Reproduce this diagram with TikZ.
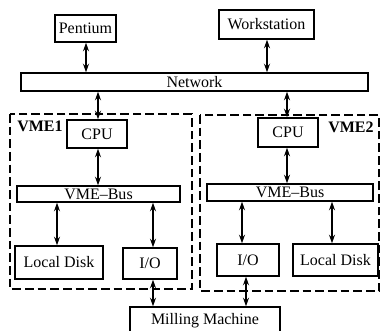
\documentclass[tikz,border=0pt]{standalone}
\usepackage{fontspec}
\setmainfont{Liberation Serif}
\usetikzlibrary{arrows.meta}
\begin{document}
\begin{tikzpicture}[x=0.75pt,y=-0.75pt,
  box/.style={draw,line width=1pt,inner sep=0pt,font=\fontsize{12}{14}\selectfont},
  arr/.style={{Stealth[length=6.5pt,width=4.5pt]}-{Stealth[length=6.5pt,width=4.5pt]},line width=1.2pt},
  grp/.style={draw,line width=0.9pt,dash pattern=on 6.5pt off 3pt},
  lbl/.style={font=\fontsize{12}{14}\selectfont\bfseries,inner sep=0pt}]
\useasboundingbox (0,0) rectangle (381,331);
\node[box,minimum width=45.75pt,minimum height=20.25pt] (pent) at (85.5,28.5) {Pentium};
\node[box,minimum width=71.25pt,minimum height=21.75pt] (ws) at (266.5,24.5) {Workstation};
\node[box,minimum width=260.25pt,minimum height=13.5pt] (net) at (194.5,82) {Network};
% VME1
\draw[grp] (10,114) rectangle (192,289);
\node[lbl] (v1) at (40,126) {VME1};
\node[box,minimum width=45pt,minimum height=21pt] (cpu1) at (97,134) {CPU};
\node[box,minimum width=122.25pt,minimum height=12pt] (bus1) at (98.5,194) {VME--Bus};
\node[box,minimum width=66pt,minimum height=24.75pt] (ld1) at (59,262.5) {Local Disk};
\node[box,minimum width=40.5pt,minimum height=23.25pt] (io1) at (150,263.5) {I/O};
% VME2
\draw[grp] (200,115) rectangle (379,291);
\node[lbl] (v2) at (351,127) {VME2};
\node[box,minimum width=45pt,minimum height=21.75pt] (cpu2) at (288,132.5) {CPU};
\node[box,minimum width=124.5pt,minimum height=12.75pt] (bus2) at (290,192.5) {VME--Bus};
\node[box,minimum width=46.5pt,minimum height=24pt] (io2) at (248,260) {I/O};
\node[box,minimum width=63.75pt,minimum height=24pt] (ld2) at (335.5,260) {Local Disk};
\node[box,minimum width=112.5pt,minimum height=21pt] (mill) at (205,321) {Milling Machine};
% x positions
\coordinate (a) at (86,0);
\coordinate (b) at (267,0);
\coordinate (c) at (98,0);
\coordinate (d) at (287,0);
\coordinate (e) at (57,0);
\coordinate (f) at (153,0);
\coordinate (g) at (242,0);
\coordinate (h) at (332,0);
\coordinate (i) at (246,0);
\draw[arr] (pent.south -| a) -- (net.north -| a);
\draw[arr] (ws.south -| b) -- (net.north -| b);
\draw[arr] (net.south -| c) -- (cpu1.north -| c);
\draw[arr] (net.south -| d) -- (cpu2.north -| d);
\draw[arr] (cpu1.south -| c) -- (bus1.north -| c);
\draw[arr] (cpu2.south -| d) -- (bus2.north -| d);
\draw[arr] (bus1.south -| e) -- (ld1.north -| e);
\draw[arr] (bus1.south -| f) -- (io1.north -| f);
\draw[arr] (bus2.south -| g) -- (io2.north -| g);
\draw[arr] (bus2.south -| h) -- (ld2.north -| h);
\draw[arr] (io1.south -| f) -- (mill.north -| f);
\draw[arr] (io2.south -| i) -- (mill.north -| i);
\end{tikzpicture}
\end{document}
